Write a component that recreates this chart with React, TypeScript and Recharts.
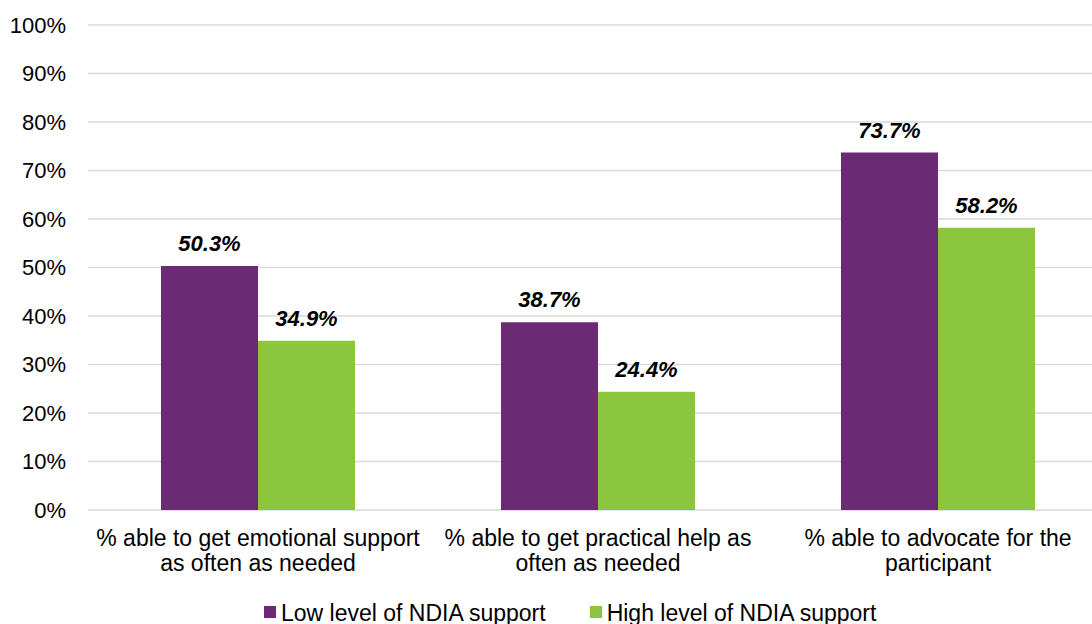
import { BarChart, Bar, XAxis, YAxis, CartesianGrid, Legend, LabelList } from 'recharts';

// Each category label keeps its line break where the axis wraps it
const CATEGORIES = [
  '% able to get emotional support\nas often as needed',
  '% able to get practical help as\noften as needed',
  '% able to advocate for the\nparticipant',
];
const LOW_SUPPORT = [50.3, 38.7, 73.7];
const HIGH_SUPPORT = [34.9, 24.4, 58.2];
const Y_TICKS = [0, 10, 20, 30, 40, 50, 60, 70, 80, 90, 100];

const SERIES = [
  { key: 'low', name: 'Low level of NDIA support', color: '#6b2a74' },
  { key: 'high', name: 'High level of NDIA support', color: '#8cc63f' },
];

const FONT = '"Liberation Sans", Arial, sans-serif';

const data = CATEGORIES.map((name, i) => ({
  name,
  low: LOW_SUPPORT[i],
  high: HIGH_SUPPORT[i],
}));

function CategoryTick({ x, y, payload }: any) {
  const lines = String(payload.value).split('\n');
  return (
    <text x={x} y={y} textAnchor="middle" fill="#000" fontSize={23} fontFamily={FONT}>
      {lines.map((line, i) => (
        <tspan key={i} x={x} dy={i === 0 ? 36 : 25}>
          {line}
        </tspan>
      ))}
    </text>
  );
}

// Legend entries in series order
function LegendContent() {
  return (
    <div style={{ display: 'flex', alignItems: 'center', fontFamily: FONT, fontSize: 23, lineHeight: '26px' }}>
      {SERIES.map((s) => (
        <div key={s.key} style={{ display: 'flex', alignItems: 'center', marginRight: 44 }}>
          <span style={{ width: 12, height: 12, background: s.color, marginRight: 5, marginTop: -2 }} />
          <span style={{ color: '#000' }}>{s.name}</span>
        </div>
      ))}
    </div>
  );
}

export default function App() {
  return (
    <div style={{ position: 'absolute', left: 0, top: 0, width: 1092, height: 624, overflow: 'hidden', background: '#fff' }}>
      <BarChart
        width={1120}
        height={624}
        data={data}
        margin={{ top: 25, right: 12, left: 0, bottom: 0 }}
        barGap={0}
        style={{ fontFamily: FONT }}
      >
        <CartesianGrid vertical={false} stroke="#d9d9d9" strokeWidth={1.5} />
        <XAxis
          dataKey="name"
          axisLine={false}
          tickLine={false}
          tickSize={0}
          tickMargin={0}
          height={88}
          interval={0}
          tick={<CategoryTick />}
        />
        <YAxis
          domain={[0, 100]}
          ticks={Y_TICKS}
          tickFormatter={(v) => `${v}%`}
          axisLine={false}
          tickLine={false}
          tickSize={0}
          tickMargin={22}
          width={88}
          tick={{ fill: '#000', fontSize: 22 }}
        />
        <Legend
          verticalAlign="bottom"
          content={<LegendContent />}
          wrapperStyle={{ left: 264, top: 600, width: 760, height: 26 }}
        />
        {SERIES.map((s) => (
          <Bar key={s.key} dataKey={s.key} name={s.name} fill={s.color} barSize={97} isAnimationActive={false}>
            <LabelList
              dataKey={s.key}
              position="top"
              offset={15}
              formatter={(v: any) => `${v}%`}
              fill="#000"
              fontSize={22}
              fontWeight="bold"
              fontStyle="italic"
            />
          </Bar>
        ))}
      </BarChart>
    </div>
  );
}
